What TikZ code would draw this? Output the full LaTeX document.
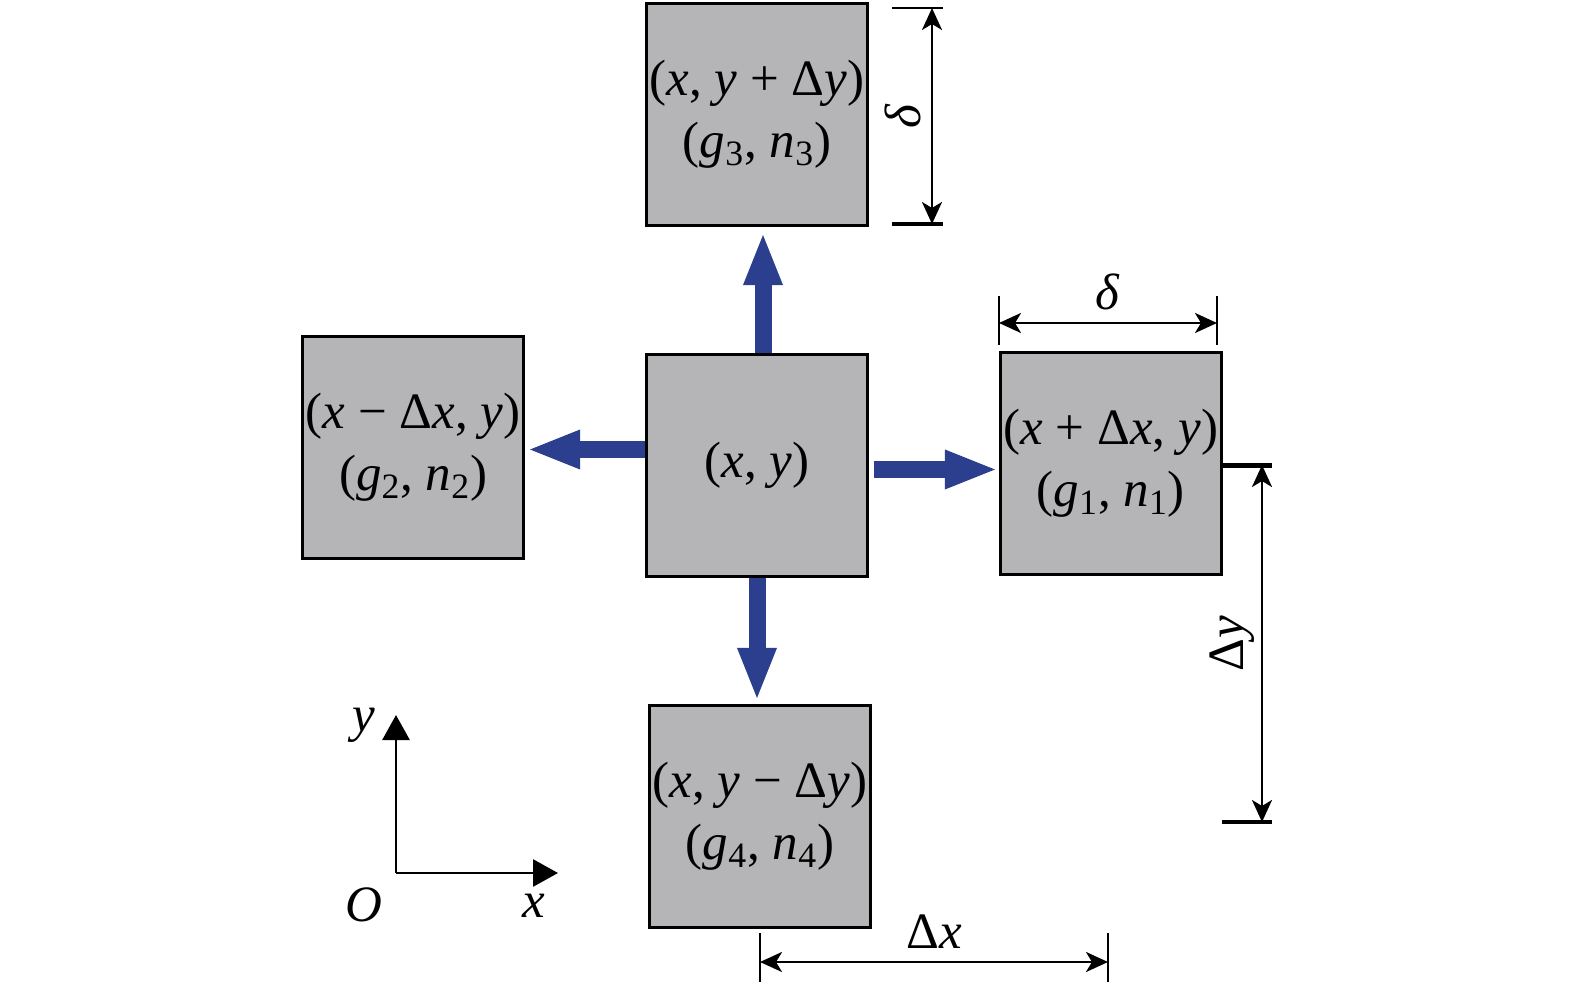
\documentclass[tikz,border=0pt]{standalone}
\usepackage{fontspec}
\setmainfont{Liberation Serif}
\usepackage{xcolor}
\usetikzlibrary{arrows.meta,positioning}
\definecolor{cellgray}{HTML}{B5B4B6}
\definecolor{flowblue}{HTML}{2B3F8E}
\newcommand{\V}[1]{\textit{#1}}

\begin{document}
\begin{tikzpicture}[
  x=0.5pt, y=-0.5pt,
  node distance=63pt,
  cell/.style={draw, line width=1.4pt, fill=cellgray, minimum width=110.5pt, minimum height=111pt, align=center, inner sep=0pt, font=\fontsize{25.5}{31}\selectfont},
  flow/.style={flowblue, line width=8.5pt, -{Triangle[length=25pt,width=20pt,line width=0pt]}},
  dim/.style={line width=1.4pt, {Stealth[length=11pt,width=10pt,inset=3pt]}-{Stealth[length=11pt,width=10pt,inset=3pt]}},
  tick/.style={line width=1.4pt},
  axis/.style={line width=1.4pt, -{Triangle[length=12.5pt,width=13.5pt]}},
  lbl/.style={font=\fontsize{25.5}{28}\selectfont, inner sep=0pt}
]
  \useasboundingbox (0,0) rectangle (1575,984);
  % cells
  \node[cell] (c) at (757,465.5) {(\V{x}, \V{y})};
  \node[cell, above=of c] (n3) {(\V{x}, \V{y} + Δ\V{y})\\(\V{g}\textsubscript{3}, \V{n}\textsubscript{3})};
  \node[cell, left=60pt of c, yshift=9pt] (n2) {(\V{x} − Δ\V{x}, \V{y})\\(\V{g}\textsubscript{2}, \V{n}\textsubscript{2})};
  \node[cell, right=65pt of c, yshift=1pt] (n1) {(\V{x} + Δ\V{x}, \V{y})\\(\V{g}\textsubscript{1}, \V{n}\textsubscript{1})};
  \node[cell, below=of c, xshift=1.5pt] (n4) {(\V{x}, \V{y} − Δ\V{y})\\(\V{g}\textsubscript{4}, \V{n}\textsubscript{4})};
  % flows
  \draw[flow] ([xshift=3pt]c.north) -- ([xshift=3pt]n3.south) [shorten >=4pt];
  \draw[flow, shorten <=2.5pt, shorten >=2pt] ([yshift=-2pt]c.east) -- ([yshift=-2pt]c.east -| n1.west);
  \draw[flow, shorten >=2.5pt] ([yshift=8pt]c.west) -- ([yshift=8pt]c.west -| n2.east);
  \draw[flow, shorten >=3pt] (c.south) -- (c.south |- n4.north);
  % dimensions
  \coordinate (t1) at (932,8);
  \coordinate (t2) at (932,224);
  \draw[tick] (892,8) -- (943,8);
  \draw[tick, line width=2.2pt] (892,224) -- (943,224);
  \draw[dim] (t1) -- node[lbl, left=5pt, rotate=90, anchor=south] {\V{δ}} (t2);
  \coordinate (r1) at (999,323);
  \coordinate (r2) at (1217,323);
  \draw[tick] (999,296) -- (999,345);
  \draw[tick] (1217,296) -- (1217,345);
  \draw[dim] (r1) -- node[lbl, above=6pt] {\V{δ}} (r2);
  \coordinate (h1) at (1262,465);
  \coordinate (h2) at (1262,822);
  \draw[tick, line width=2.5pt] (1222,465) -- (1272,465);
  \draw[tick, line width=2pt] (1222,822) -- (1272,822);
  \draw[dim] (h1) -- node[lbl, pos=0.5, left=3pt, rotate=90, anchor=south] {Δ\V{y}} (h2);
  \coordinate (w1) at (760,962);
  \coordinate (w2) at (1108,962);
  \draw[tick] (760,933) -- (760,982);
  \draw[tick] (1108,933) -- (1108,982);
  \draw[dim] (w1) -- node[lbl, above=6pt] {Δ\V{x}} (w2);
  % axes
  \coordinate (O) at (396,873);
  \coordinate (ytip) at (396,715);
  \coordinate (xtip) at (558,873);
  \draw[axis] (O) -- (ytip);
  \draw[axis] (O) -- (xtip);
  \node[lbl] (ylab) at (364,725) {\V{y}};
  \node[lbl] (olab) at (364,905) {\V{O}};
  \node[lbl] (xlab) at (534,906) {\V{x}};
\end{tikzpicture}
\end{document}
